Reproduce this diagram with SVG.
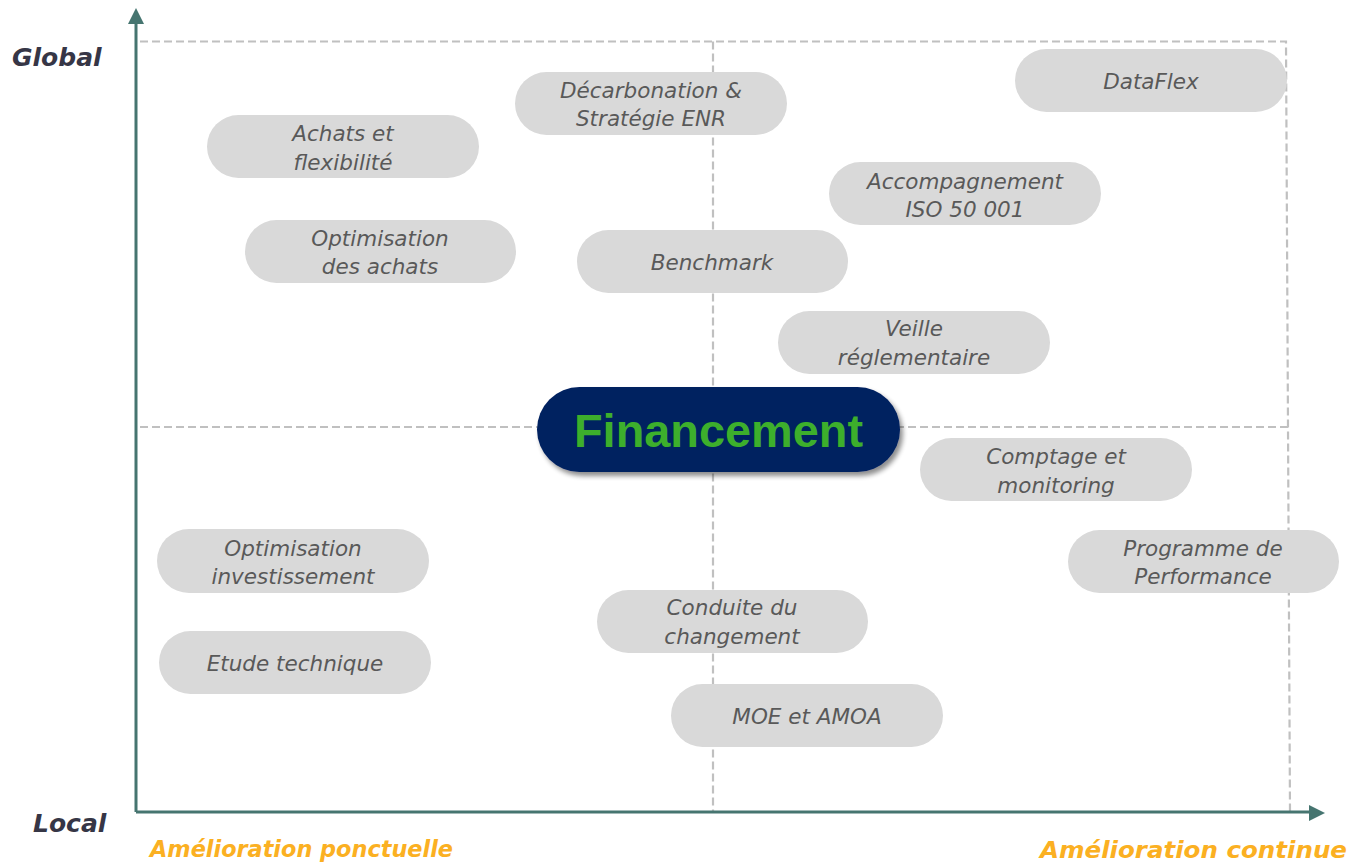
<svg xmlns="http://www.w3.org/2000/svg" width="1351" height="864" viewBox="0 0 1351 864">
<style>
.grid{fill:none;stroke:#c0c0c0;stroke-width:2.2;stroke-dasharray:8 4}
.axis{stroke:#467570;stroke-width:3;fill:none}
.pill{fill:#d9d9d9}
.pt{font-family:"DejaVu Sans",sans-serif;font-style:oblique;font-size:21.5px;fill:#595959;text-anchor:middle}
.ax{font-family:"DejaVu Sans",sans-serif;font-style:oblique;font-weight:bold;font-size:25px;fill:#363646}
.or{font-family:"DejaVu Sans",sans-serif;font-style:oblique;font-weight:bold;font-size:23px;fill:#fbb022}
</style>
<defs>
<filter id="sh" x="-10%" y="-20%" width="125%" height="150%">
<feGaussianBlur in="SourceAlpha" stdDeviation="2.5"/>
<feOffset dx="3" dy="4"/>
<feComponentTransfer><feFuncA type="linear" slope="0.45"/></feComponentTransfer>
<feMerge><feMergeNode/><feMergeNode in="SourceGraphic"/></feMerge>
</filter>
</defs>
<rect width="1351" height="864" fill="#ffffff"/>
<g id="connectors">
<path class="grid" d="M140 41.5 H1286 L1290 812"/>
<path class="grid" d="M713 41.5 V812"/>
<path class="grid" d="M140 427 H1290"/>
<path class="axis" d="M136 812 V22 M136 812 H1311"/>
<polygon points="136,8 128,24 144,24" fill="#467570"/>
<polygon points="1325,813 1309,805 1309,821" fill="#467570"/>
</g>
<g id="labels">
<text class="ax" x="12" y="66">Global</text>
<text class="ax" x="33" y="832">Local</text>
<text class="or" x="150" y="857" textLength="303" lengthAdjust="spacingAndGlyphs">Amélioration ponctuelle</text>
<text class="or" x="1040" y="858" textLength="307" lengthAdjust="spacingAndGlyphs">Amélioration continue</text>
</g>
<g id="n-achats"><rect class="pill" x="207" y="115" width="272" height="63" rx="31.5"/><text class="pt" x="343" y="141">Achats et</text><text class="pt" x="343" y="170">flexibilité</text></g>
<g id="n-decarbonation"><rect class="pill" x="515" y="72" width="272" height="63" rx="31.5"/><text class="pt" x="651" y="98">Décarbonation &amp;</text><text class="pt" x="651" y="126">Stratégie ENR</text></g>
<g id="n-dataflex"><rect class="pill" x="1015" y="49" width="272" height="63" rx="31.5"/><text class="pt" x="1151" y="89">DataFlex</text></g>
<g id="n-iso"><rect class="pill" x="829" y="162" width="272" height="63" rx="31.5"/><text class="pt" x="965" y="189">Accompagnement</text><text class="pt" x="965" y="217">ISO 50 001</text></g>
<g id="n-optachats"><rect class="pill" x="245" y="220" width="271" height="63" rx="31.5"/><text class="pt" x="380" y="246">Optimisation</text><text class="pt" x="380" y="274">des achats</text></g>
<g id="n-benchmark"><rect class="pill" x="577" y="230" width="271" height="63" rx="31.5"/><text class="pt" x="712" y="270">Benchmark</text></g>
<g id="n-veille"><rect class="pill" x="778" y="311" width="272" height="63" rx="31.5"/><text class="pt" x="914" y="336">Veille</text><text class="pt" x="914" y="365">réglementaire</text></g>
<g id="n-financement"><rect x="537" y="387" width="363" height="85" rx="42.5" fill="#002060" filter="url(#sh)"/><text x="718.5" y="447" text-anchor="middle" font-family="'Liberation Sans',sans-serif" font-weight="bold" font-size="47" fill="#3daf2c" textLength="289" lengthAdjust="spacingAndGlyphs">Financement</text></g>
<g id="n-comptage"><rect class="pill" x="920" y="438" width="272" height="63" rx="31.5"/><text class="pt" x="1056" y="464">Comptage et</text><text class="pt" x="1056" y="493">monitoring</text></g>
<g id="n-programme"><rect class="pill" x="1068" y="530" width="271" height="63" rx="31.5"/><text class="pt" x="1203" y="556">Programme de</text><text class="pt" x="1203" y="584">Performance</text></g>
<g id="n-optinv"><rect class="pill" x="157" y="529" width="272" height="64" rx="32"/><text class="pt" x="293" y="556">Optimisation</text><text class="pt" x="293" y="584">investissement</text></g>
<g id="n-conduite"><rect class="pill" x="597" y="590" width="271" height="63" rx="31.5"/><text class="pt" x="732" y="615">Conduite du</text><text class="pt" x="732" y="644">changement</text></g>
<g id="n-etude"><rect class="pill" x="159" y="631" width="272" height="63" rx="31.5"/><text class="pt" x="295" y="671">Etude technique</text></g>
<g id="n-moe"><rect class="pill" x="671" y="684" width="272" height="63" rx="31.5"/><text class="pt" x="807" y="724">MOE et AMOA</text></g>
</svg>
